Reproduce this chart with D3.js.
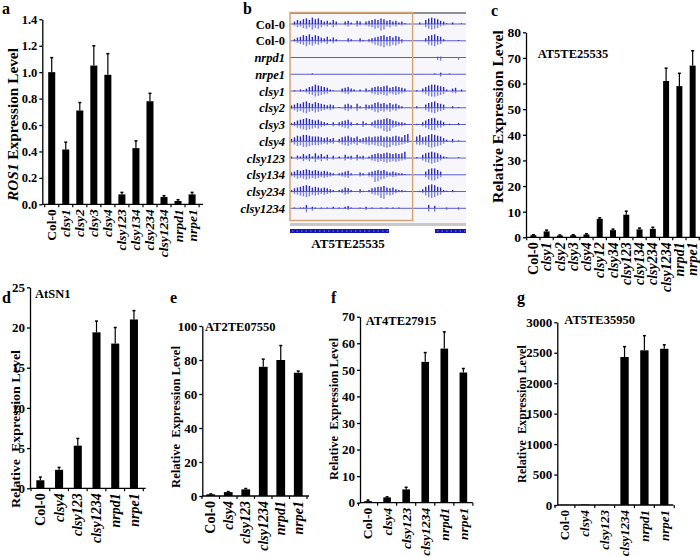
<!DOCTYPE html>
<html><head><meta charset="utf-8">
<script src="https://cdn.jsdelivr.net/npm/d3@7"></script>
<style>
body{margin:0;background:#fff}
svg{display:block}
text{font-family:"Liberation Serif","Times New Roman",serif;font-weight:bold;fill:#000;white-space:pre}
</style></head><body>
<svg id="fig" width="700" height="557"></svg>
<script>
// panel a
var catA = ["Col-0","clsy1","clsy2","clsy3","clsy4","clsy123","clsy134","clsy234","clsy1234","nrpd1","nrpe1"];
var valA = [1.0, 0.415, 0.71, 1.05, 0.98, 0.075, 0.425, 0.78, 0.055, 0.025, 0.075];
var errA = [0.11, 0.055, 0.06, 0.15, 0.16, 0.015, 0.055, 0.06, 0.01, 0.01, 0.015];
// panel c
var catC = ["Col-0","clsy1","clsy2","clsy3","clsy4","clsy12","clsy34","clsy123","clsy134","clsy234","clsy1234","nrpd1","nrpe1"];
var valC = [0.8, 2.3, 0.7, 0.8, 1.1, 7.2, 2.8, 8.8, 3.1, 3.3, 61, 59, 67];
var errC = [0.2, 0.5, 0.2, 0.2, 0.3, 0.4, 0.4, 1.4, 0.5, 0.6, 5, 5, 5.8];
// panels d-g
var catDG = ["Col-0","clsy4","clsy123","clsy1234","nrpd1","nrpe1"];
var valD = [1.0, 2.3, 5.3, 19.4, 18, 21];
var errD = [0.4, 0.3, 0.9, 1.4, 2, 1.1];
var valE = [1.0, 2.3, 3.9, 76, 80, 72.5];
var errE = [0.2, 0.3, 0.5, 4.5, 8.5, 1.0];
var valF = [0.6, 2.0, 5.0, 53, 58, 49];
var errF = [0.4, 0.2, 0.8, 3.5, 6.3, 1.5];
var valG = [3, 8, 5, 2430, 2540, 2565];
var errG = [0, 0, 0, 170, 240, 65];
// panel b: browser tracks, one digit per bin (signal above / below baseline)
var tracksB = ["Col-0","Col-0","nrpd1","nrpe1","clsy1","clsy2","clsy3","clsy4","clsy123","clsy134","clsy234","clsy1234"];
var upB = [
    "0354675867"+"5342530034"+"2043034565"+"7645342310"+"0002057876"+"431020010",
    "0245768576"+"4352420003"+"2003102345"+"6756465200"+"0000036786"+"520000100",
    "0000000000"+"0000000000"+"0000000000"+"0000000000"+"0000000001"+"100000000",
    "0000000100"+"0000000000"+"0000000000"+"0000000000"+"0000000010"+"200100000",
    "0102135687"+"6542100345"+"3202031456"+"5674565430"+"0010357887"+"652034020",
    "3465786576"+"5434301045"+"3052043467"+"5646453200"+"0020046786"+"540020100",
    "2356787656"+"4320303456"+"3020420356"+"6787543320"+"0010357885"+"530100200",
    "3576887666"+"5453403567"+"5463456566"+"7565676589"+"0068568987"+"642030100",
    "2032535263"+"5240302042"+"3042302456"+"5676565680"+"0010467876"+"421000100",
    "3465676565"+"4543202345"+"2003203456"+"5643432210"+"0000047886"+"400000000",
    "2456787565"+"4543202354"+"2003102456"+"6754532210"+"0001368986"+"521020000",
    "0101140210"+"1010201023"+"1001020100"+"1010101000"+"0000004030"+"001000100"
];
var downB = [
    "0243564756"+"4231420023"+"1032023465"+"8734231200"+"0001046765"+"320010000",
    "0134575645"+"3241310002"+"1002102356"+"7867564300"+"0000025675"+"410000000",
    "0000000000"+"0000000000"+"0000000000"+"0000000000"+"0000000003"+"400000300",
    "0000000000"+"0000000000"+"0000000000"+"0000000000"+"0000000000"+"300000000",
    "0101024576"+"5431000234"+"2101021345"+"4563454320"+"0010246776"+"541023010",
    "2354675465"+"4323200134"+"2041032356"+"4535342100"+"0010035675"+"430010000",
    "1245676545"+"3210202345"+"2010310245"+"5898432210"+"0010246774"+"420100100",
    "2465776555"+"4342302456"+"4352345456"+"6787565432"+"0045457876"+"531020000",
    "1021424152"+"4130201031"+"2031201345"+"4565454320"+"0010356765"+"310000000",
    "2354565454"+"3432101234"+"1002102398"+"6532321100"+"0000036775"+"300000000",
    "1345676454"+"3432101243"+"1002101345"+"8945421100"+"0001257875"+"410010000",
    "0100050310"+"1010100012"+"1000020000"+"0000000000"+"0000004040"+"002000200"
];
var geneB = [[0, 33.2], [48.6, 59]];
var regionB = [0, 41.1];

var svg = d3.select("#fig");

function letter(t, x, y) {
    svg.append("text").attr("x", x).attr("y", y).attr("font-size", 16).text(t);
}

function barPanel(o) {
    var g = svg.append("g");
    var n = o.cats.length;
    var x = d3.scaleBand().domain(o.cats).range(o.xr)
        .paddingInner(o.pad).paddingOuter(o.pad / 2);
    var y = d3.scaleLinear().domain([0, o.max]).range(o.yr);
    var yAxis = d3.axisLeft(y).tickValues(o.ticks).tickSize(3).tickSizeOuter(0).tickFormat(o.fmt);
    var ay = g.append("g").attr("transform", "translate(" + o.ax + ",0)").call(yAxis);
    ay.attr("font-family", null).attr("font-size", o.tickFont);
    ay.selectAll("path,line").attr("stroke-width", 1.3);
    ay.selectAll("text").attr("x", -5);
    // x axis line with ticks between bars
    g.append("line").attr("x1", o.ax).attr("x2", o.axEnd)
        .attr("y1", y(0)).attr("y2", y(0)).attr("stroke", "#000").attr("stroke-width", 1.3);
    g.selectAll(".xt").data(d3.range(n + 1)).enter().append("line")
        .attr("x1", function (i) { return o.xr[0] + i * x.step(); })
        .attr("x2", function (i) { return o.xr[0] + i * x.step(); })
        .attr("y1", y(0)).attr("y2", y(0) + 3)
        .attr("stroke", "#000").attr("stroke-width", 1.2);
    g.selectAll(".bar").data(o.vals).enter().append("rect")
        .attr("x", function (d, i) { return x(o.cats[i]); })
        .attr("width", x.bandwidth())
        .attr("y", function (d) { return y(d); })
        .attr("height", function (d) { return y(0) - y(d); })
        .attr("fill", "#000");
    o.vals.forEach(function (v, i) {
        if (!o.errs[i]) return;
        var cx = x(o.cats[i]) + x.bandwidth() / 2;
        g.append("line").attr("x1", cx).attr("x2", cx)
            .attr("y1", y(v)).attr("y2", y(v + o.errs[i]))
            .attr("stroke", "#000").attr("stroke-width", 1.2);
        g.append("line").attr("x1", cx - 1.5).attr("x2", cx + 1.5)
            .attr("y1", y(v + o.errs[i])).attr("y2", y(v + o.errs[i]))
            .attr("stroke", "#000").attr("stroke-width", 1.5);
    });
    g.selectAll(".lab").data(o.cats).enter().append("text")
        .attr("transform", function (d) {
            var cx = x(d) + x.bandwidth() / 2 + o.labFont * 0.33;
            return "translate(" + cx + "," + (y(0) + 5) + ") rotate(-90)";
        })
        .attr("text-anchor", "end")
        .attr("font-size", o.labFont)
        .attr("font-style", function (d) { return d === "Col-0" ? "normal" : "italic"; })
        .text(function (d) { return d; });
    // y label, squeezed along its length to the measured span
    var yl = g.append("text")
        .attr("text-anchor", "middle").attr("font-size", o.ylabFont);
    if (o.ylabItalic) {
        yl.append("tspan").attr("font-style", "italic").text(o.ylabItalic);
    }
    yl.append("tspan").text(o.ylabText);
    var len = yl.node().getComputedTextLength();
    var k = len > 0 ? o.ylab[2] / len : 1;
    yl.attr("transform", "translate(" + o.ylab[0] + "," + o.ylab[1] + ") rotate(-90) scale(" + k + ",1)");
    if (o.title) {
        g.append("text").attr("x", o.title[1]).attr("y", o.title[2])
            .attr("font-size", o.titleFont || 12.5).text(o.title[0]);
    }
}

// a
letter("a", 2, 14);
barPanel({cats: catA, vals: valA, errs: errA, max: 1.4, ticks: d3.range(0, 1.41, 0.2),
    fmt: d3.format(".1f"), xr: [44.7, 199.1], yr: [204.3, 19.3], ax: 42.3, axEnd: 203,
    pad: 0.5, tickFont: 12.5, labFont: 13.5, ylab: [18, 124.5, 153], ylabFont: 14,
    ylabItalic: "ROS1", ylabText: " Expression Level"});

// b: browser view
letter("b", 243, 14);
var gb = svg.append("g");
var xB = d3.scaleLinear().domain([0, 59]).range([290, 466]);
var yB = d3.scalePoint().domain(d3.range(tracksB.length)).range([24, 208.3]);
gb.append("rect").attr("x", xB(0)).attr("y", 13).attr("width", xB(59) - xB(0)).attr("height", 210)
    .attr("fill", "#f7f7fb");
gb.append("line").attr("x1", xB(0)).attr("x2", xB(59)).attr("y1", 13).attr("y2", 13)
    .attr("stroke", "#8f8f8f").attr("stroke-width", 2);
gb.append("rect").attr("x", xB(0)).attr("y", 223).attr("width", xB(59) - xB(0)).attr("height", 3)
    .attr("fill", "#c8c8c8");
tracksB.forEach(function (name, k) {
    var by = yB(k);
    gb.append("line").attr("x1", xB(0)).attr("x2", xB(59)).attr("y1", by).attr("y2", by)
        .attr("stroke", "#5c5cc8").attr("stroke-width", 1);
    var ups = upB[k].split("").map(Number), downs = downB[k].split("").map(Number);
    ups.forEach(function (h, i) {
        if (downs[i]) gb.append("line").attr("x1", xB(i + 0.5)).attr("x2", xB(i + 0.5))
            .attr("y1", by).attr("y2", by + downs[i] * 0.8)
            .attr("stroke", "#7c84da").attr("stroke-width", 1.4);
        if (h) gb.append("line").attr("x1", xB(i + 0.5)).attr("x2", xB(i + 0.5))
            .attr("y1", by).attr("y2", by - h * 0.8)
            .attr("stroke", "#2a2ab8").attr("stroke-width", 1.4);
    });
    gb.append("text").attr("x", 285).attr("y", by + 4.5).attr("text-anchor", "end")
        .attr("font-size", 12.5)
        .attr("font-style", name === "Col-0" ? "normal" : "italic").text(name);
});
gb.append("rect").attr("x", xB(regionB[0])).attr("y", 12.5)
    .attr("width", xB(regionB[1]) - xB(regionB[0])).attr("height", 208)
    .attr("fill", "none").attr("stroke", "#d4a574").attr("stroke-width", 1.5);
geneB.forEach(function (s) {
    gb.append("rect").attr("x", xB(s[0])).attr("y", 229).attr("width", xB(s[1]) - xB(s[0]))
        .attr("height", 4).attr("fill", "#1414b4");
    gb.append("line").attr("x1", xB(s[0]) + 2).attr("x2", xB(s[1])).attr("y1", 231).attr("y2", 231)
        .attr("stroke", "#8a8ae6").attr("stroke-width", 1).attr("stroke-dasharray", "1.5,3");
});
gb.append("text").attr("x", 348).attr("y", 248).attr("text-anchor", "middle")
    .attr("font-size", 13).text("AT5TE25535");

// c
letter("c", 491, 16);
barPanel({cats: catC, vals: valC, errs: errC, max: 80, ticks: d3.range(0, 81, 10),
    fmt: d3.format("d"), xr: [526.7, 699.3], yr: [237.3, 32.3], ax: 526, axEnd: 700,
    pad: 0.55, tickFont: 13.5, labFont: 14, ylab: [503, 116.5, 173], ylabFont: 15,
    ylabText: "Relative Expression Level", title: ["AT5TE25535", 537.7, 58.3], titleFont: 12.5});

// d
letter("d", 2, 303);
barPanel({cats: catDG, vals: valD, errs: errD, max: 25, ticks: d3.range(0, 26, 5),
    fmt: d3.format("d"), xr: [31, 143.3], yr: [488.3, 287.3], ax: 30, axEnd: 145.7,
    pad: 0.57, tickFont: 13, labFont: 14, ylab: [20, 429, 158], ylabFont: 13.5,
    ylabText: "Relative  Expression Level", title: ["AtSN1", 35, 298.3]});

// e
letter("e", 170, 303);
barPanel({cats: catDG, vals: valE, errs: errE, max: 100, ticks: d3.range(0, 101, 20),
    fmt: d3.format("d"), xr: [202, 307], yr: [496, 326], ax: 202.3, axEnd: 309,
    pad: 0.5, tickFont: 13, labFont: 14, ylab: [180, 417, 142], ylabFont: 13,
    ylabText: "Relative  Expression Level", title: ["AT2TE07550", 205, 330.7]});

// f
letter("f", 331, 303);
barPanel({cats: catDG, vals: valF, errs: errF, max: 70, ticks: d3.range(0, 71, 10),
    fmt: d3.format("d"), xr: [358.5, 472.9], yr: [502.7, 316.7], ax: 360, axEnd: 472.7,
    pad: 0.6, tickFont: 13, labFont: 13.5, ylab: [338, 409, 142], ylabFont: 13,
    ylabText: "Relative  Expression Level", title: ["AT4TE27915", 365.7, 325]});

// g
letter("g", 517, 303);
barPanel({cats: catDG, vals: valG, errs: errG, max: 3000, ticks: d3.range(0, 3001, 500),
    fmt: d3.format("d"), xr: [555, 674.2], yr: [505, 322.3], ax: 557.3, axEnd: 673.3,
    pad: 0.58, tickFont: 13, labFont: 13, ylab: [526, 414, 138], ylabFont: 13,
    ylabText: "Relative  Expression Level", title: ["AT5TE35950", 564.3, 324]});
</script>
</body></html>
